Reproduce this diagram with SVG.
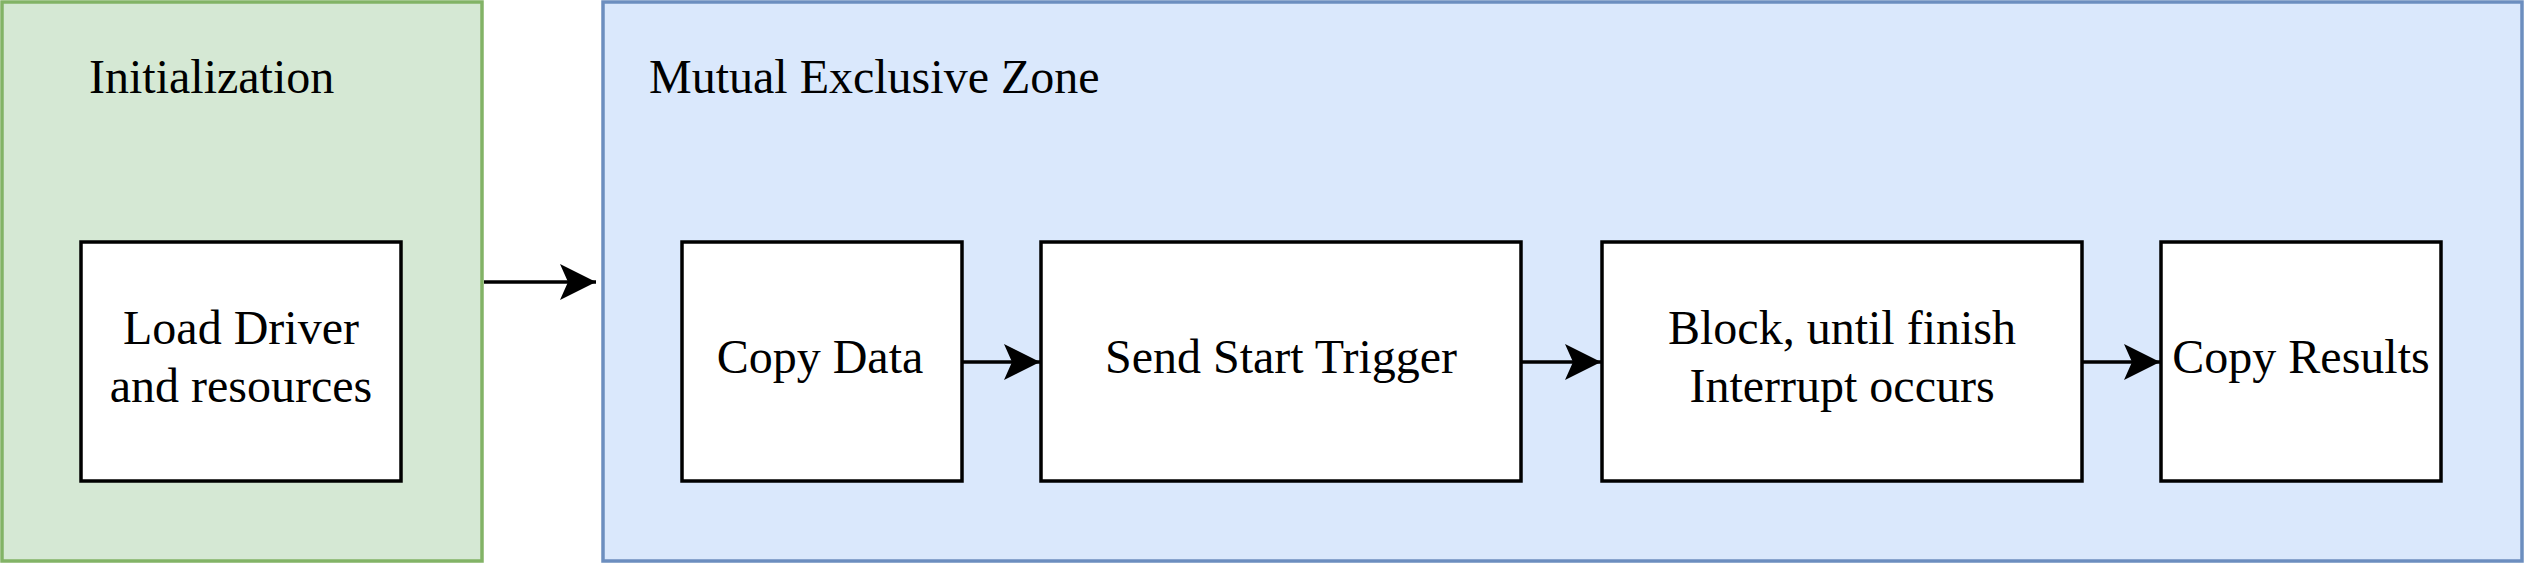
<svg xmlns="http://www.w3.org/2000/svg" width="2524" height="564" viewBox="0 0 2524 564">
<style>
.lbl{font-family:"Liberation Serif","Times New Roman",serif;font-size:48px;fill:#000;}
.c{text-anchor:middle;}
.box{fill:#fff;stroke:#000;stroke-width:3.5;}
.edge{fill:none;stroke:#000;stroke-width:3.5;}
</style>
<defs>
<marker id="arr" markerUnits="userSpaceOnUse" markerWidth="40" markerHeight="40" viewBox="0 0 40 40" refX="36" refY="20" orient="auto">
<path d="M0,2 L36,20 L0,38 L8,20 Z" fill="#000"/>
</marker>
</defs>
<g id="init">
<rect x="2" y="2" width="480" height="559" fill="#d5e8d4" stroke="#82b366" stroke-width="3.5"/>
<text class="lbl" x="89" y="93">Initialization</text>
</g>
<g id="mutex">
<rect x="603" y="2" width="1919" height="559" fill="#dae8fc" stroke="#6c8ebf" stroke-width="3.5"/>
<text class="lbl" x="649" y="93">Mutual Exclusive Zone</text>
</g>
<g id="load">
<rect class="box" x="81" y="242" width="320" height="239"/>
<text class="lbl c" x="241" y="344">Load Driver</text>
<text class="lbl c" x="241" y="402">and resources</text>
</g>
<g id="copydata">
<rect class="box" x="682" y="242" width="280" height="239"/>
<text class="lbl c" x="820" y="373">Copy Data</text>
</g>
<g id="send">
<rect class="box" x="1041" y="242" width="480" height="239"/>
<text class="lbl c" x="1281" y="373">Send Start Trigger</text>
</g>
<g id="block">
<rect class="box" x="1602" y="242" width="480" height="239"/>
<text class="lbl c" x="1842" y="344">Block, until finish</text>
<text class="lbl c" x="1842" y="402">Interrupt occurs</text>
</g>
<g id="copyres">
<rect class="box" x="2161" y="242" width="280" height="239"/>
<text class="lbl c" x="2301" y="373">Copy Results</text>
</g>
<g id="connectors">
<path class="edge" d="M484,282 L596,282" marker-end="url(#arr)"/>
<path class="edge" d="M962,362 L1040,362" marker-end="url(#arr)"/>
<path class="edge" d="M1521,362 L1601,362" marker-end="url(#arr)"/>
<path class="edge" d="M2082,362 L2160,362" marker-end="url(#arr)"/>
</g>
</svg>
